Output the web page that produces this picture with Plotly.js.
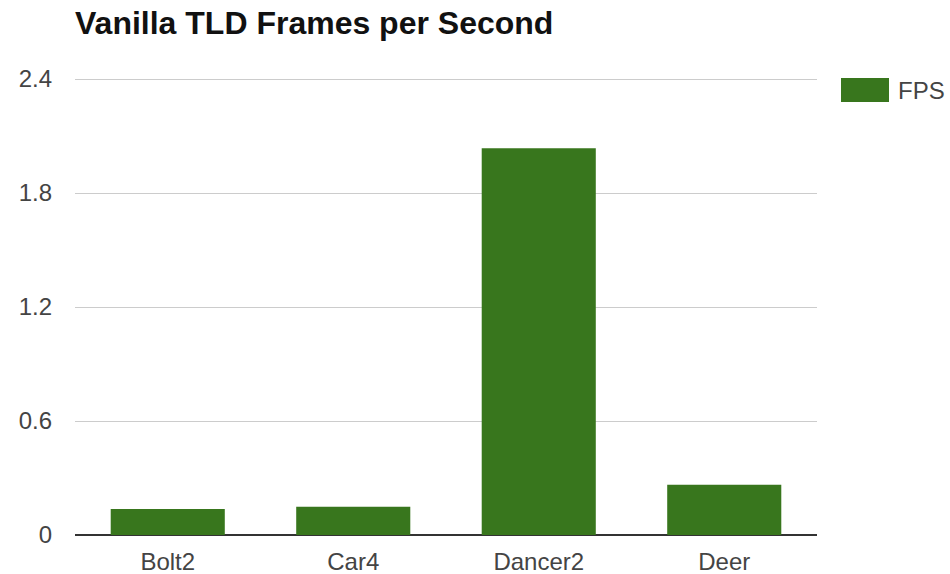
<!DOCTYPE html>
<html>
<head>
<meta charset="utf-8">
<script src="https://cdn.plot.ly/plotly-3.0.1.min.js"></script>
<style>
  html, body { margin: 0; padding: 0; background: #fff; }
  #chart { width: 950px; height: 574px; }
</style>
</head>
<body>
<div id="chart"></div>
<script>
// Frames per second measured for each sequence
const sequences = ["Bolt2", "Car4", "Dancer2", "Deer"];
const fps = [0.137, 0.149, 2.035, 0.265];
const yTicks = [0, 0.6, 1.2, 1.8, 2.4];
const yTickText = ["0", "0.6", "1.2", "1.8", "2.4"];
const seriesName = "FPS";

const barColor = "#38761d";
const font = "Liberation Sans, Arial, sans-serif";

const trace = {
  type: "bar",
  x: sequences,
  y: fps,
  name: seriesName,
  marker: { color: barColor, line: { width: 0 } },
  hoverinfo: "x+y"
};

// plot area: 75..817 px wide, 77..535 px tall
const plotL = 75, plotR = 817, plotT = 77, plotB = 535;
const px = (x) => (x - plotL) / (plotR - plotL);
const py = (y) => (plotB - y) / (plotB - plotT);

const layout = {
  width: 950,
  height: 574,
  margin: { l: plotL, r: 950 - plotR, t: plotT, b: 574 - plotB },
  paper_bgcolor: "#fff",
  plot_bgcolor: "#fff",
  showlegend: false,
  bargap: 0.385,
  title: {
    text: "<b>Vanilla TLD Frames per Second</b>",
    font: { family: font, size: 32, color: "#111" },
    xref: "paper", x: 0, xanchor: "left",
    yref: "container", y: 1 - 23 / 574, yanchor: "middle"
  },
  xaxis: {
    type: "category",
    showgrid: false,
    showline: false,
    zeroline: false,
    ticks: "",
    tickfont: { family: font, size: 24, color: "#444" },
    ticklabelstandoff: 10
  },
  yaxis: {
    // headroom above 2.4 so its gridline sits inside the plot
    range: [0, 2.4105],
    tickmode: "array",
    tickvals: yTicks,
    ticktext: yTickText,
    showgrid: true,
    gridcolor: "#cccccc",
    gridwidth: 1,
    zeroline: true,
    zerolinecolor: "#333333",
    zerolinewidth: 1.5,
    showline: false,
    ticks: "",
    tickfont: { family: font, size: 24, color: "#444" },
    ticklabelstandoff: 22
  },
  shapes: [
    {
      type: "rect", xref: "paper", yref: "paper",
      x0: px(841), x1: px(889),
      y0: py(102), y1: py(78),
      fillcolor: barColor, line: { width: 0 }
    }
  ],
  annotations: [
    {
      text: seriesName, xref: "paper", yref: "paper",
      x: px(896), y: py(90),
      xanchor: "left", yanchor: "middle", showarrow: false,
      font: { family: font, size: 24, color: "#444" }
    }
  ]
};

Plotly.newPlot("chart", [trace], layout, { displayModeBar: false, staticPlot: true });
</script>
</body>
</html>
